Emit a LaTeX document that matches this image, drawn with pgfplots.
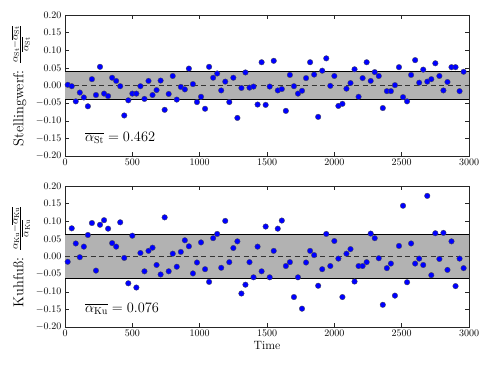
\documentclass[border=0pt]{standalone}
\usepackage{pgfplots}
\usepackage{pgfplotstable}
\pgfplotsset{compat=1.18}

% Stellingwerf deviations
\pgfplotstableread{
t v
20 0.002
50 -0.002
80 -0.045
110 -0.020
140 -0.034
170 -0.059
200 0.018
230 -0.027
260 0.053
290 -0.023
320 -0.030
350 0.022
380 0.013
410 -0.002
440 -0.085
470 -0.042
500 -0.023
530 -0.023
560 -0.002
590 -0.038
620 0.013
650 -0.027
680 -0.013
710 0.014
740 -0.069
770 -0.024
800 0.027
830 -0.040
860 -0.004
890 -0.011
920 0.048
950 0.004
980 -0.047
1010 -0.032
1040 -0.066
1070 0.053
1100 0.022
1130 0.034
1160 -0.014
1190 0.011
1220 -0.047
1250 0.022
1280 -0.092
1310 -0.007
1340 0.037
1370 -0.006
1400 -0.003
1430 -0.054
1460 0.066
1490 -0.055
1520 -0.003
1550 0.070
1580 -0.014
1610 -0.010
1640 -0.072
1670 0.030
1700 -0.002
1730 -0.023
1760 -0.015
1790 0.021
1820 0.066
1850 0.031
1880 -0.089
1910 0.042
1940 0.077
1970 -0.001
2000 0.027
2030 -0.058
2060 -0.052
2090 -0.009
2120 0.007
2150 0.046
2180 -0.032
2210 0.021
2240 0.066
2270 0.013
2300 0.038
2330 0.027
2360 -0.064
2390 -0.016
2420 -0.016
2450 0.001
2480 0.052
2510 -0.033
2540 -0.045
2570 0.030
2600 0.072
2630 0.008
2660 0.045
2690 0.011
2720 0.018
2750 0.063
2780 0.027
2810 -0.014
2840 0.010
2870 0.052
2900 0.052
2930 -0.016
2960 0.039
}\stdata

% Kuhfuss deviations
\pgfplotstableread{
t v
20 -0.015
50 0.080
80 0.037
110 -0.002
140 0.028
170 0.061
200 0.095
230 -0.040
260 0.090
290 0.103
320 0.079
350 0.038
380 0.028
410 0.097
440 -0.004
470 -0.076
500 0.059
530 -0.088
560 0.010
590 -0.042
620 0.016
650 0.025
680 -0.024
710 -0.051
740 0.111
770 -0.042
800 0.008
830 -0.029
860 0.013
890 0.046
920 0.029
950 -0.048
980 -0.017
1010 0.040
1040 -0.036
1070 -0.072
1100 0.052
1130 0.064
1160 -0.032
1190 0.101
1220 -0.016
1250 0.024
1280 0.043
1310 -0.105
1340 -0.080
1370 -0.016
1400 -0.059
1430 0.028
1460 -0.042
1490 0.085
1520 -0.059
1550 0.016
1580 0.079
1610 0.102
1640 -0.027
1670 -0.016
1700 -0.115
1730 -0.059
1760 -0.148
1790 -0.017
1820 0.016
1850 0.004
1880 -0.083
1910 -0.036
1940 0.064
1970 -0.027
2000 0.044
2030 -0.006
2060 -0.115
2090 0.008
2120 0.021
2150 -0.071
2180 -0.027
2210 -0.027
2240 -0.016
2270 0.065
2300 0.052
2330 -0.005
2360 -0.137
2390 -0.033
2420 -0.020
2450 -0.111
2480 0.030
2510 0.144
2540 -0.073
2570 0.037
2600 -0.020
2630 -0.006
2660 -0.024
2690 0.172
2720 -0.053
2750 0.066
2780 -0.007
2810 0.067
2840 -0.038
2870 0.043
2900 -0.084
2930 -0.006
2960 -0.033
}\kudata

\pgfplotsset{
  devpanel/.style={
    width=404pt, height=141pt, scale only axis,
    xmin=0, xmax=3000, ymin=-0.2, ymax=0.2,
    xtick={0,500,...,3000},
    ytick={-0.2,-0.15,...,0.21},
    yticklabel style={/pgf/number format/.cd, fixed, fixed zerofill, precision=2},
    xticklabel style={/pgf/number format/.cd, set thousands separator={}},
    scaled y ticks=false,
    tick align=inside,
    major tick length=4pt,
    axis line style={black!85, line width=0.8pt},
    every tick/.style={black!85, line width=0.5pt},
    ylabel style={at={(axis description cs:-0.11,0.5)}, anchor=center, font=\Large},
    clip=false,
  },
  dots/.style={only marks, mark=*, mark size=2.8pt,
    mark options={fill=blue, draw=black!70, line width=0.3pt}},
  zeroline/.style={black!80, line width=0.8pt, dash pattern=on 5pt off 3.5pt},
}

\begin{document}
\begin{tikzpicture}
\begin{axis}[devpanel, name=bot,
    xlabel={Time}, xlabel style={font=\large, yshift=2pt},
    ylabel={Kuhfu\ss: $\frac{\alpha_{\mathrm{Ku}}-\overline{\alpha_{\mathrm{Ku}}}}{\overline{\alpha_{\mathrm{Ku}}}}$}]
  \addplot[fill=black!30, draw=none] coordinates {(0,-0.062) (3000,-0.062) (3000,0.062) (0,0.062)} -- cycle;
  \addplot[black, line width=0.8pt] coordinates {(0,0.062) (3000,0.062)};
  \addplot[black, line width=0.8pt] coordinates {(0,-0.062) (3000,-0.062)};
  \addplot[zeroline] coordinates {(0,0) (3000,0)};
  \addplot[dots] table[x=t, y=v] {\kudata};
  \node[anchor=west, inner sep=0pt, font=\Large] at (axis cs:148,-0.148) {$\overline{\alpha_{\mathrm{Ku}}} = 0.076$};
\end{axis}
\begin{axis}[devpanel, name=top, at={(0,171pt)},
    ylabel={Stellingwerf: $\frac{\alpha_{\mathrm{St}}-\overline{\alpha_{\mathrm{St}}}}{\overline{\alpha_{\mathrm{St}}}}$}]
  \addplot[fill=black!30, draw=none] coordinates {(0,-0.039) (3000,-0.039) (3000,0.039) (0,0.039)} -- cycle;
  \addplot[black, line width=0.8pt] coordinates {(0,0.039) (3000,0.039)};
  \addplot[black, line width=0.8pt] coordinates {(0,-0.039) (3000,-0.039)};
  \addplot[zeroline] coordinates {(0,0) (3000,0)};
  \addplot[dots] table[x=t, y=v] {\stdata};
  \node[anchor=west, inner sep=0pt, font=\Large] at (axis cs:148,-0.148) {$\overline{\alpha_{\mathrm{St}}} = 0.462$};
\end{axis}
\path ([xshift=-65pt, yshift=15pt]top.north west) rectangle ([xshift=22pt, yshift=-40pt]bot.south east);
\end{tikzpicture}
\end{document}
